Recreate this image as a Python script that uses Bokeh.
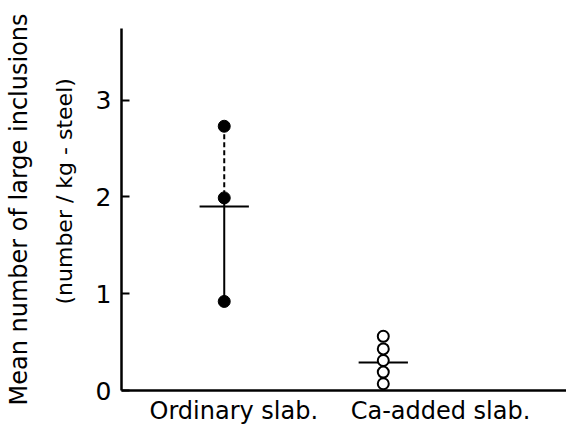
from bokeh.plotting import figure
from bokeh.models import Title, FixedTicker, Range1d
from bokeh.embed import file_html
from bokeh.resources import INLINE

# ---- data ----
categories = ["Ordinary slab.", "Ca-added slab."]
cat_x = [1, 2]
label_x = [1.06, 2.36]
ordinary_vals = [2.73, 1.99, 0.92]
ca_vals = [0.56, 0.43, 0.31, 0.19, 0.07]
means = [1.90, 0.29]
y_ticks = [0, 1, 2, 3]

FONT = "DejaVu Sans"

p = figure(width=566, height=427, output_backend="svg", toolbar_location=None,
           x_range=Range1d(0.354, 3.152), y_range=Range1d(0, 3.74),
           min_border_left=121, min_border_top=28, min_border_right=0,
           min_border_bottom=36)
p.grid.visible = False
p.outline_line_color = None
p.background_fill_color = "white"
p.border_fill_color = "white"

# y axis
p.yaxis.ticker = FixedTicker(ticks=y_ticks)
p.yaxis.major_tick_in = 8
p.yaxis.major_tick_out = 0
p.yaxis.minor_tick_line_color = None
p.yaxis.axis_line_width = 2.5
p.yaxis.major_tick_line_width = 2
p.yaxis.major_label_standoff = 10
p.yaxis.major_label_text_font = FONT
p.yaxis.major_label_text_font_size = "25px"
p.yaxis.major_label_text_color = "black"

# x axis
p.xaxis.ticker = FixedTicker(ticks=label_x)
p.xaxis.major_label_overrides = {lx: c for lx, c in zip(label_x, categories)}
p.xaxis.major_tick_line_color = None
p.xaxis.major_tick_in = 0
p.xaxis.major_tick_out = 0
p.xaxis.minor_tick_line_color = None
p.xaxis.axis_line_width = 2.5
p.xaxis.major_label_standoff = 6
p.xaxis.major_label_text_font = FONT
p.xaxis.major_label_text_font_size = "24px"
p.xaxis.major_label_text_color = "black"

# y axis title lines
t2 = Title(text="(number / kg - steel)", align="left", offset=86,
           text_font=FONT, text_font_size="22px", text_font_style="normal",
           text_color="black", standoff=31)
p.add_layout(t2, "left")
t1 = Title(text="Mean number of large inclusions", align="center",
           text_font=FONT, text_font_size="24px", text_font_style="normal",
           text_color="black", standoff=4)
p.add_layout(t1, "left")

# ordinary slab: connecting line (dashed upper, solid lower)
ox = cat_x[0]
p.segment(x0=[ox], y0=[max(ordinary_vals)], x1=[ox], y1=[ordinary_vals[1]],
          line_color="black", line_width=2, line_dash="5 3")
p.segment(x0=[ox], y0=[ordinary_vals[1]], x1=[ox], y1=[min(ordinary_vals)],
          line_color="black", line_width=2)

# mean bars
hw = 0.155
p.segment(x0=[x - hw for x in cat_x], y0=means, x1=[x + hw for x in cat_x], y1=means,
          line_color="black", line_width=2)

# points
p.scatter(x=[ox] * len(ordinary_vals), y=ordinary_vals, size=12,
          fill_color="black", line_color="black")
p.scatter(x=[cat_x[1]] * len(ca_vals), y=ca_vals, size=11,
          fill_color="white", line_color="black", line_width=2)

open("out.html", "w").write(file_html(p, INLINE))
